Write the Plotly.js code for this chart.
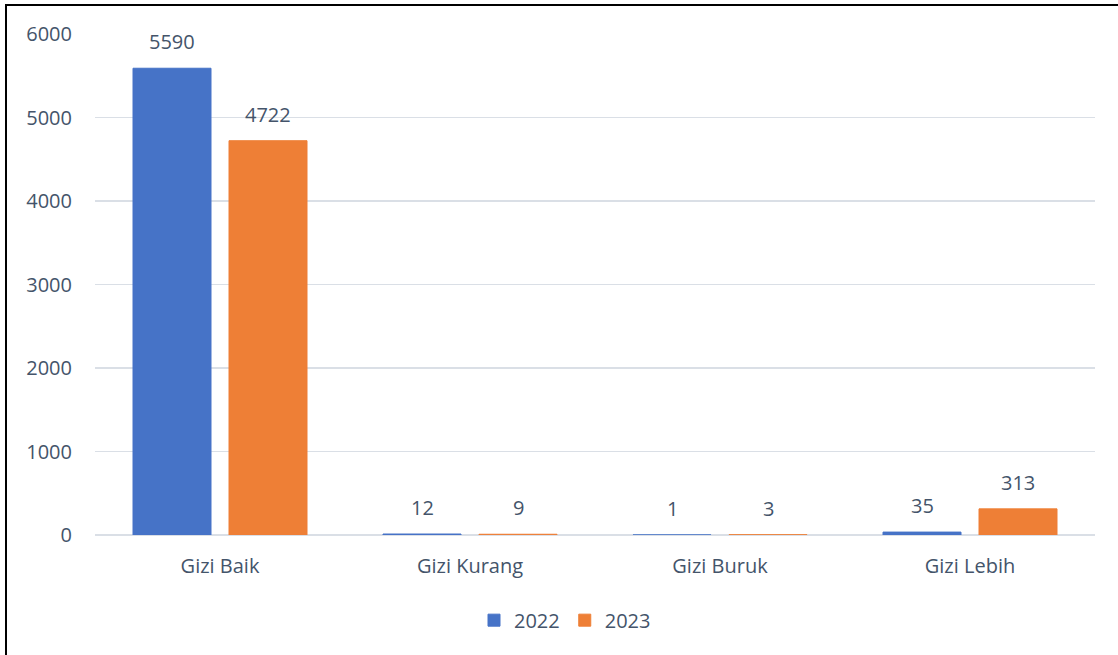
<!DOCTYPE html>
<html>
<head>
<meta charset="utf-8">
<script src="https://cdn.plot.ly/plotly-3.0.1.min.js"></script>
<style>
  html, body { margin: 0; padding: 0; background: #fff; }
  #wrap { position: relative; width: 1118px; height: 655px; overflow: hidden; }
  #chart { position: absolute; left: 0; top: 0; width: 1118px; height: 655px; }
  #frame { position: absolute; left: 5px; top: 4px; width: 1200px; height: 700px;
           border-left: 2px solid #000; border-top: 2px solid #000; pointer-events: none; }
</style>
</head>
<body>
<div id="wrap">
  <div id="chart"></div>
  <div id="frame"></div>
</div>
<script>
const categories = ["Gizi Baik", "Gizi Kurang", "Gizi Buruk", "Gizi Lebih"];
const values2022 = [5590, 12, 1, 35];
const values2023 = [4722, 9, 3, 313];
const seriesNames = ["2022", "2023"];
const yTicks = [0, 1000, 2000, 3000, 4000, 5000, 6000];

const textColor = "#44546A";
const fontFam = "'Open Sans', 'Noto Sans', sans-serif";
const fs = 20;

const traces = [
  { type: "bar", name: seriesNames[0], x: categories, y: values2022,
    marker: { color: "#4673C7", line: { color: "#4673C7", width: 1 } }, hoverinfo: "none" },
  { type: "bar", name: seriesNames[1], x: categories, y: values2023,
    marker: { color: "#EE7F36", line: { color: "#EE7F36", width: 1 } }, hoverinfo: "none" }
];

const annotations = [];
[values2022, values2023].forEach((vals, si) => {
  vals.forEach((v, i) => {
    annotations.push({
      x: categories[i], y: v, xref: "x", yref: "y",
      text: String(v), showarrow: false,
      xanchor: "center", yanchor: "bottom",
      xshift: si === 0 ? -48 : 48, yshift: 11,
      font: { family: fontFam, size: fs, color: textColor }
    });
  });
});

const layout = {
  width: 1118, height: 655,
  margin: { l: 95, r: 23, t: 34, b: 120 },
  paper_bgcolor: "rgba(0,0,0,0)", plot_bgcolor: "#fff",
  barmode: "group", bargap: 0.232, bargroupgap: 0.1875,
  font: { family: fontFam, size: fs, color: textColor },
  showlegend: true,
  legend: { orientation: "h", x: 0.47, xanchor: "center", y: -0.17, yanchor: "middle",
            font: { family: fontFam, size: fs, color: textColor }, itemwidth: 30, traceorder: "normal" },
  xaxis: { type: "category", showgrid: false, showline: false, zeroline: false,
           ticks: "", ticklabelstandoff: 17, tickfont: { family: fontFam, size: fs, color: textColor } },
  yaxis: { range: [0, 6000], tickvals: yTicks, ticktext: yTicks.map(String),
           showgrid: true, gridcolor: "#DADFE6", gridwidth: 1.5,
           zeroline: true, zerolinecolor: "#DADFE6", zerolinewidth: 1.5,
           showline: false, ticks: "", ticklabelstandoff: 22,
           tickfont: { family: fontFam, size: fs, color: textColor } },
  annotations: annotations
};

Plotly.newPlot("chart", traces, layout, { staticPlot: true, displayModeBar: false });
</script>
</body>
</html>
